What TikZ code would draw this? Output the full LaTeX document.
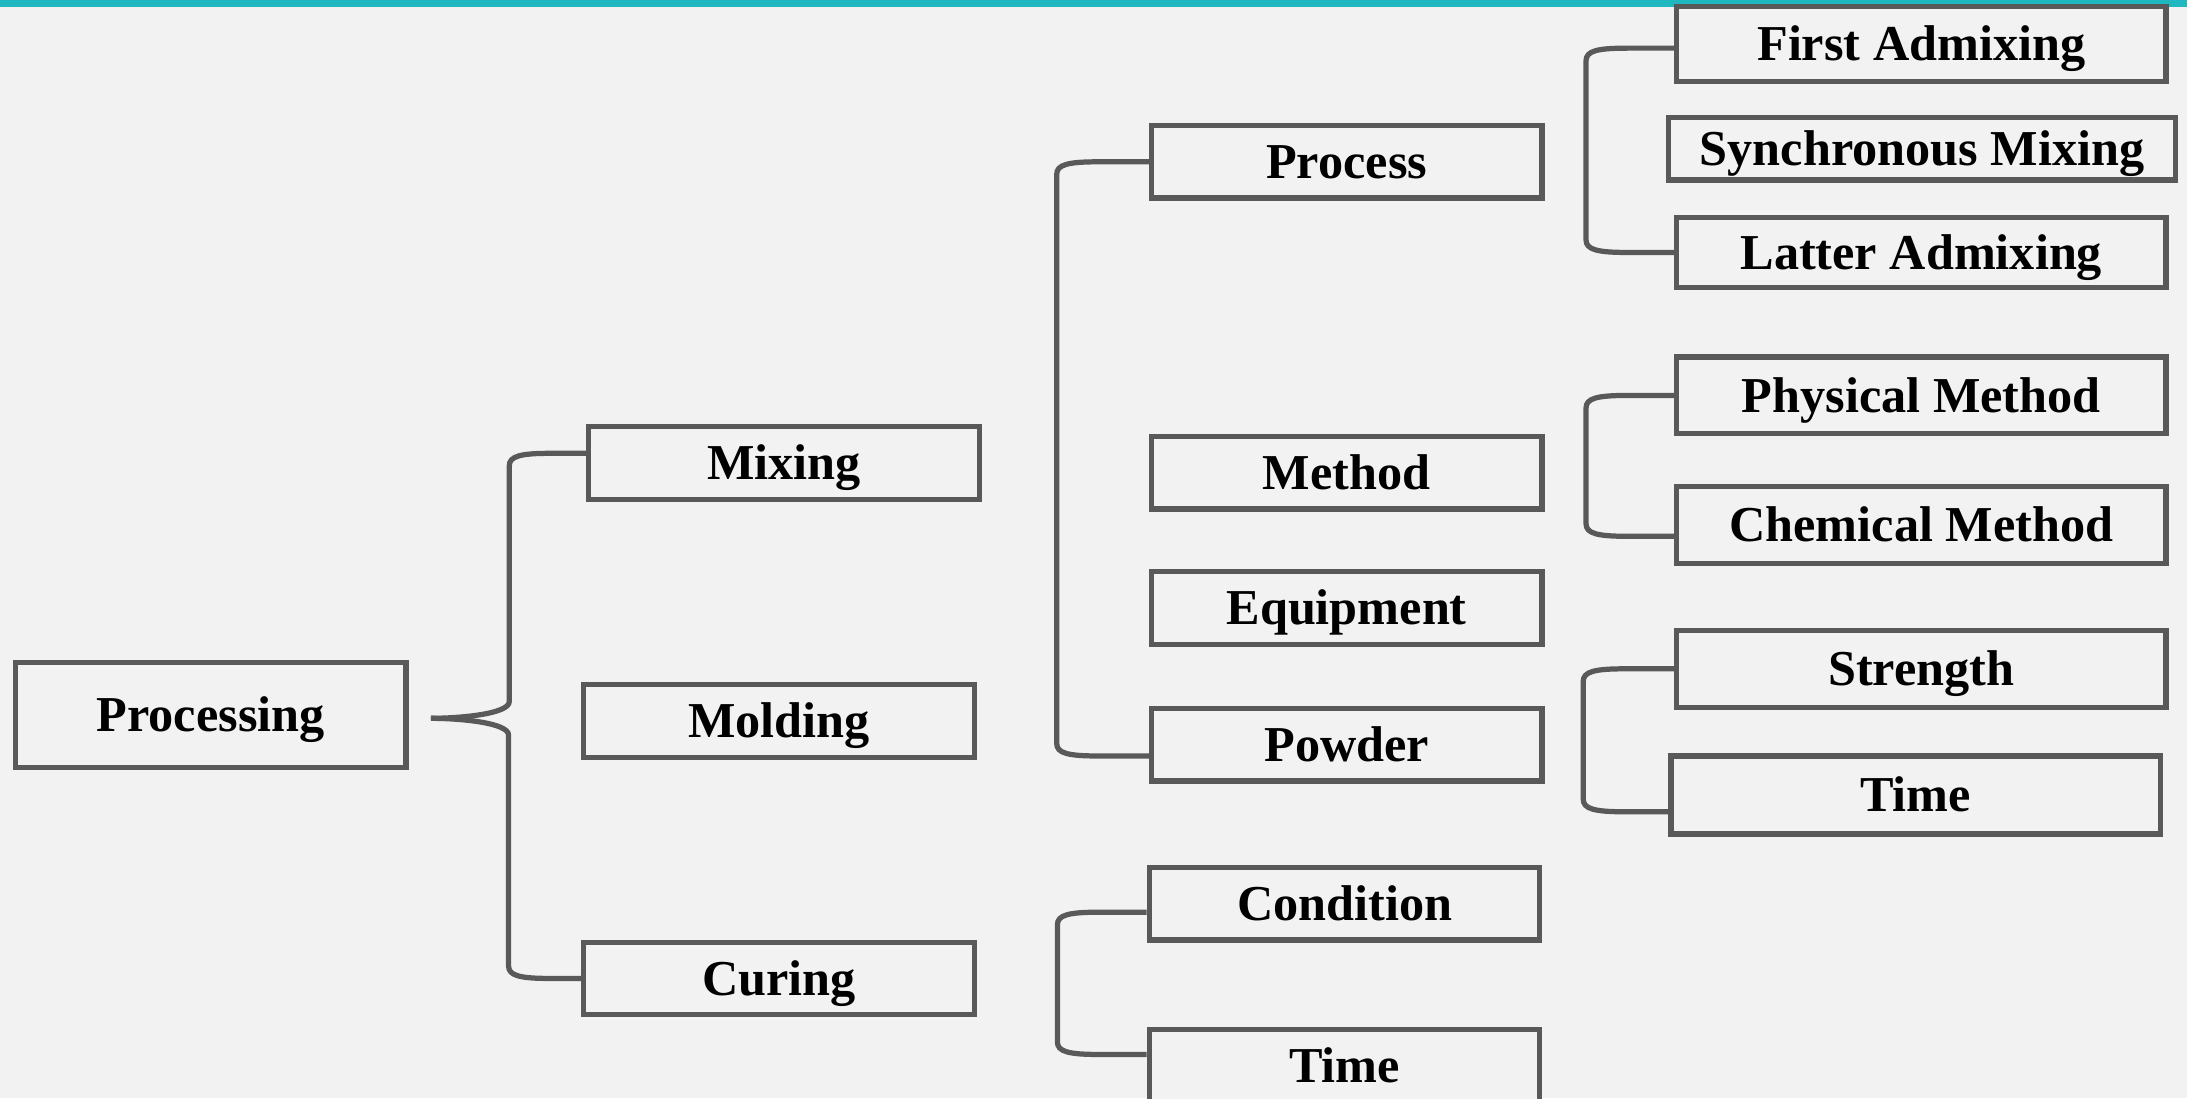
\documentclass[tikz,border=0pt]{standalone}
\usepackage{fontspec}
\setmainfont{Liberation Serif}
\usetikzlibrary{calc}
\definecolor{mygray}{HTML}{595959}
\definecolor{mybg}{HTML}{F2F2F2}
\definecolor{myteal}{HTML}{1FB8C1}

\begin{document}
\begin{tikzpicture}
			[x=0.2mm,y=-0.2mm,
			every node/.style={draw=mygray,line width=0.75mm,fill=mybg,inner sep=0pt,
				font=\fontsize{20.5}{24}\selectfont\bfseries,text height=13.6pt,text depth=0pt,
				minimum width=56mm,minimum height=10.4mm},
			wide/.style={minimum width=70.2mm,minimum height=10.8mm},
			conn/.style={draw=mygray,line width=0.75mm}]
			\fill[mybg] (0,0) rectangle (1568,787.3);
			\fill[myteal] (0,0) rectangle (1568,5);
			\useasboundingbox (0,0) rectangle (1568,787.3);
			
			\node (processing) at (151,512.5) [minimum height=15mm] {Processing};
			\node (mixing) at (562,332)  {Mixing};
			\node (molding) at (558.5,517)  {Molding};
			\node (curing) at (558.5,701.5)  {Curing};
			\node (process) at (965.5,116)  {Process};
			\node (method) at (965.5,339)  {Method};
			\node (equipment) at (965.5,436)  {Equipment};
			\node (powder) at (965.5,534)  {Powder};
			\node (condition) at (964,648)  {Condition};
			\node (curetime) at (964,764)  {Time};
			\node[wide] (first) at (1377.5,31.5)  {First Admixing};
			\node[wide,minimum width=72.8mm,minimum height=9mm] (sync) at (1378,106.5)  {Synchronous Mixing};
			\node[wide,minimum height=10mm] (latter) at (1377.5,181)  {Latter Admixing};
			\node[wide,minimum height=11mm] (physical) at (1377.5,283.5)  {Physical Method};
			\node[wide,minimum height=11mm] (chemical) at (1377.5,376.5)  {Chemical Method};
			\node[wide,minimum height=11mm] (strength) at (1377.5,479.5)  {Strength};
			\node[wide,minimum height=11.2mm] (powdertime) at (1373.5,570)  {Time};
			\coordinate (tip) at (309,515);
			
			% brace from Processing
			\draw[conn] ($(mixing.west)+(0,-7)$) -- ++(-25,0) .. controls +(-22,0) and +(0,-7) .. ++(-30,9) coordinate (m)
				-- (m |- 0,503) .. controls +(0,9) and +(20,0) .. (tip);
			\draw[conn] (curing.west) -- ++(-22,0) .. controls +(-22,0) and +(0,7) .. ++(-30,-9) coordinate (m)
				-- (m |- 0,527) .. controls +(0,-9) and +(20,0) .. (tip);
			
			\foreach \a/\b/\d/\sa/\sb in {process/powder/36/0/8,first/latter/33/3/0,physical/chemical/33/0/8,strength/powdertime/35/0/12,condition/curetime/34/6/-8}
			\draw[conn] ($(\a.west)+(0,\sa)$) -- ++(-\d,0) .. controls +(-22,0) and +(0,-7) .. ++(-30,9) coordinate (c)
				-- ($(c |- \b.west)+(0,\sb-9)$) .. controls +(0,7) and +(-22,0) .. ++(30,9) -- ($(\b.west)+(0,\sb)$);
			\end{tikzpicture}
\end{document}
